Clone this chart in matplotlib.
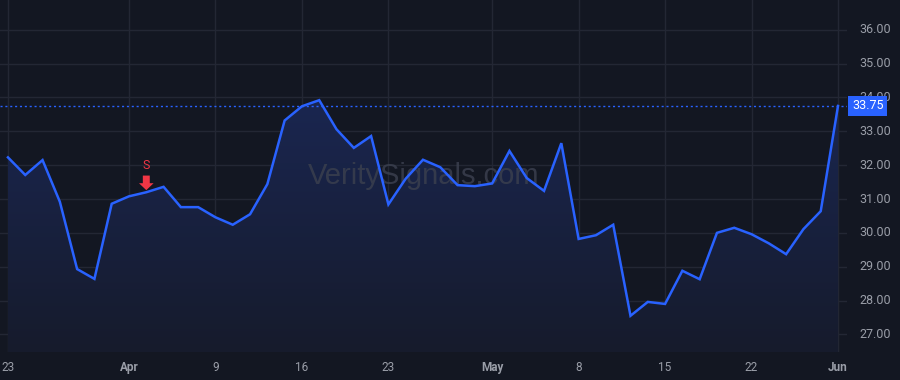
import matplotlib
matplotlib.use("Agg")
import matplotlib.pyplot as plt
import numpy as np
from matplotlib.patches import Polygon
from matplotlib.colors import LinearSegmentedColormap

# ---- data ----
prices = [32.23, 31.71, 32.15, 30.92, 28.93, 28.64, 30.86, 31.08, 31.20, 31.36,
          30.76, 30.76, 30.46, 30.24, 30.55, 31.44, 33.32, 33.74, 33.92, 33.06,
          32.51, 32.86, 30.84, 31.60, 32.16, 31.94, 31.41, 31.38, 31.46, 32.42,
          31.62, 31.24, 32.65, 29.82, 29.93, 30.24, 27.55, 27.96, 27.90, 28.88,
          28.63, 30.00, 30.15, 29.96, 29.69, 29.37, 30.11, 30.64, 33.75]
tick_bar_index = [0, 7, 12, 17, 22, 28, 33, 38, 43, 48]
tick_labels = ["23", "Apr", "9", "16", "23", "May", "8", "15", "22", "Jun"]
bold_ticks = ["Apr", "May", "Jun"]
y_ticks = [27, 28, 29, 30, 31, 32, 33, 34, 35, 36]
sell_index = 8
last_price = prices[-1]
watermark = "VeritySignals.com"

BG = "#131722"
GRID = "#232734"
LINE = "#2962ff"
TXT = "#9a9ea8"
RED = "#f23645"

plt.rcParams['font.family'] = ['Roboto', 'DejaVu Sans']

fig = plt.figure(figsize=(9, 3.8), dpi=100, facecolor=BG)
ax = fig.add_axes([0, 28 / 380, 847 / 900, 1 - 28 / 380])
ax.set_facecolor(BG)

x = np.arange(len(prices))
y = np.array(prices)

ymin, ymax = 26.48, 36.88
ax.set_xlim(-0.46, len(prices) - 1 + 0.52)
ax.set_ylim(ymin, ymax)

# grid
for t in y_ticks:
    ax.axhline(t, color=GRID, lw=1, zorder=0)
for i in tick_bar_index:
    ax.axvline(i, color=GRID, lw=1, zorder=0)

# gradient fill under line
grad = np.linspace(0, 1, 256).reshape(-1, 1)
cmap = LinearSegmentedColormap.from_list("g", ["#1a2650", "#161b2c"])
top = y.max()
im = ax.imshow(grad, extent=[x[0], x[-1], ymin, top], origin="upper",
               aspect="auto", cmap=cmap, zorder=1)
verts = np.vstack([np.column_stack([x, y]), [[x[-1], ymin], [x[0], ymin]]])
poly = Polygon(verts, closed=True, facecolor="none", edgecolor="none")
ax.add_patch(poly)
im.set_clip_path(poly)

# watermark
ax.text(0.5, 0.5, watermark, transform=ax.transAxes, ha="center", va="center",
        fontsize=21, color="#3a3f4e", alpha=0.85, zorder=2,
        family=['Liberation Sans', 'DejaVu Sans'])

# line
ax.plot(x, y, color=LINE, lw=1.8, zorder=3, solid_joinstyle="miter")

# last price dotted line
ax.axhline(last_price, color=LINE, lw=1, ls=(0, (1.5, 2)), zorder=3)

# sell marker: block arrow pointing down at the bar, "S" above
sv = prices[sell_index]
ax.annotate("", xy=(sell_index, sv), xycoords="data",
            xytext=(0, 12), textcoords="offset points",
            arrowprops=dict(arrowstyle="simple,head_width=1.05,head_length=0.5,tail_width=0.5",
                            mutation_scale=10, color=RED, lw=0, shrinkA=0, shrinkB=1.5),
            zorder=4)
ax.annotate("S", xy=(sell_index, sv), xycoords="data", xytext=(0, 19),
            textcoords="offset points", color=RED, ha="center", va="center",
            fontsize=9, zorder=4)

for s in ax.spines.values():
    s.set_visible(False)
ax.set_xticks([])
ax.set_yticks([])

# y-axis labels (right side)
for t in y_ticks:
    ax.text(1.0 + 12 / 847, t, f"{t:.2f}", transform=ax.get_yaxis_transform(),
            ha="left", va="center", fontsize=9, color=TXT, clip_on=False)

# last price label
ax.text(1.0 + 5 / 847, last_price, f"{last_price:.2f}", transform=ax.get_yaxis_transform(),
        ha="left", va="center", fontsize=9, color="white", clip_on=False, zorder=6,
        bbox=dict(boxstyle="square,pad=0.3", facecolor=LINE, edgecolor="none"))

# x-axis labels
for i, lab in zip(tick_bar_index, tick_labels):
    ax.text(i, -0.043, lab, transform=ax.get_xaxis_transform(), ha="center", va="center",
            fontsize=8.5, color=TXT, clip_on=False,
            fontweight="bold" if lab in bold_ticks else "normal")

fig.savefig("out.png", dpi=100, facecolor=BG)
